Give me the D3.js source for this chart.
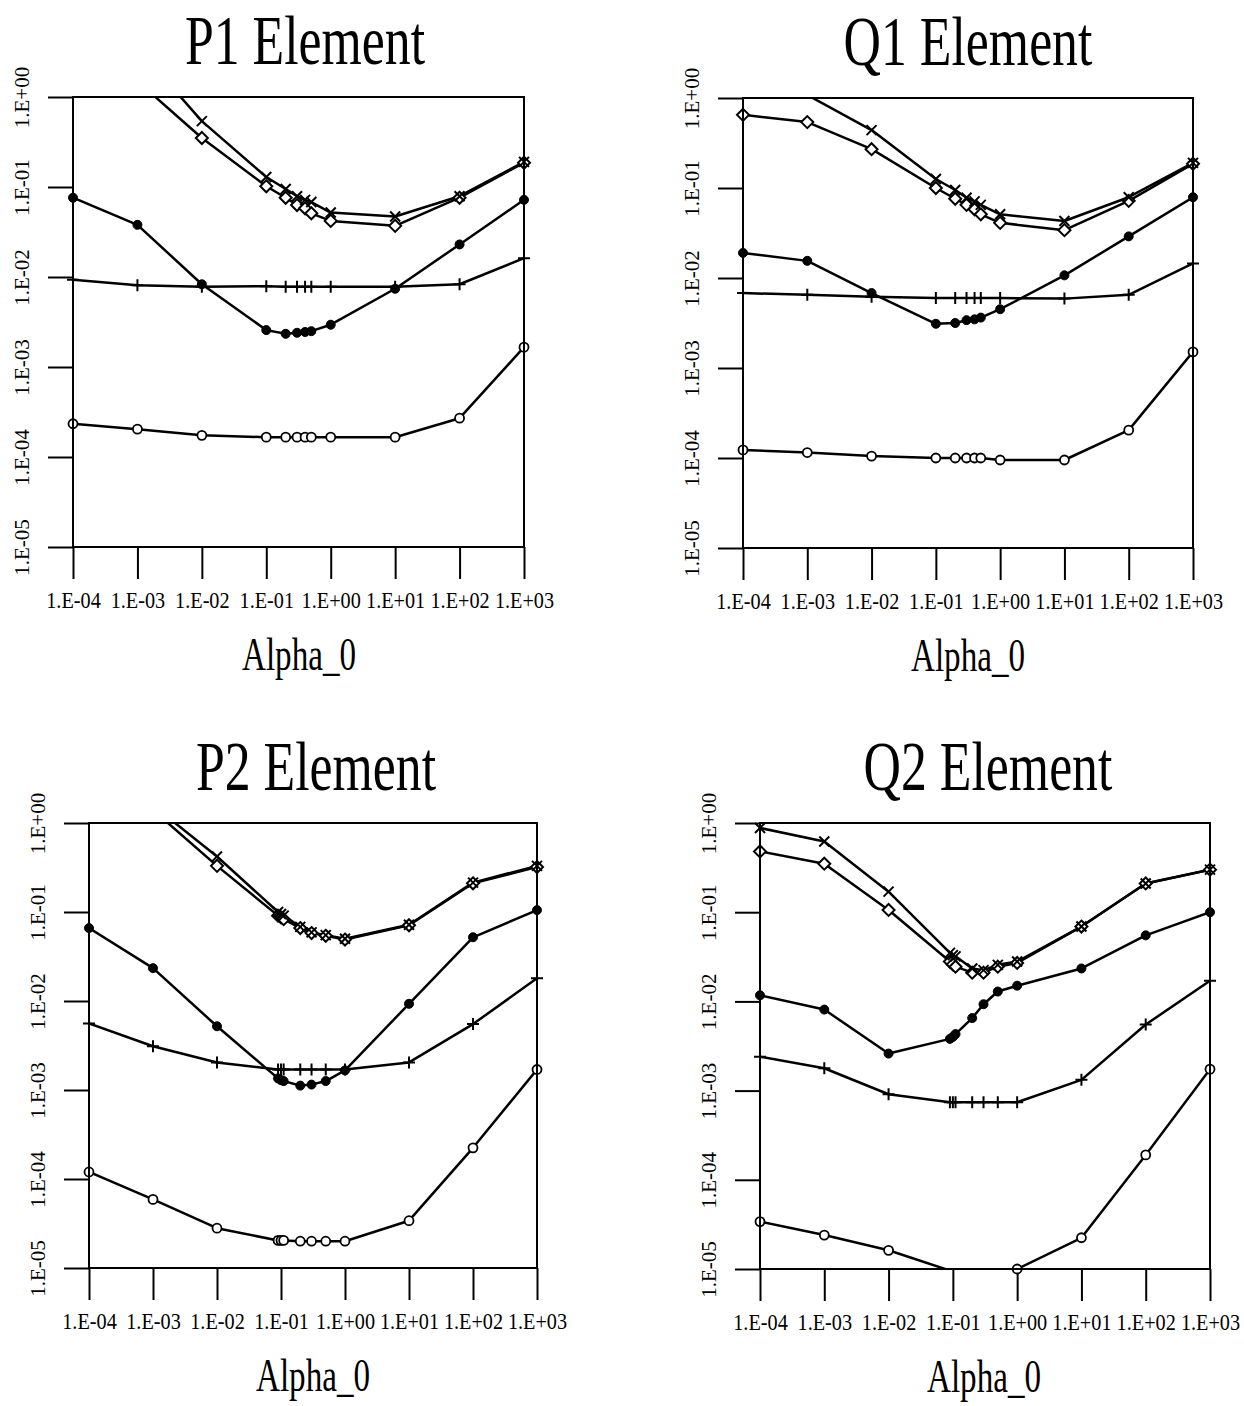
<!DOCTYPE html>
<html>
<head>
<meta charset="utf-8">
<script src="https://cdn.jsdelivr.net/npm/d3@7"></script>
<style>
  html, body { margin: 0; padding: 0; background: #fff; }
  svg { display: block; }
</style>
</head>
<body>
<script>
// ---- axis values and labels ----
const xTickValues = [1e-4, 1e-3, 1e-2, 1e-1, 1e0, 1e1, 1e2, 1e3];
const xTickLabels = ["1.E-04", "1.E-03", "1.E-02", "1.E-01", "1.E+00", "1.E+01", "1.E+02", "1.E+03"];
const yTickValues = [1e-5, 1e-4, 1e-3, 1e-2, 1e-1, 1e0];
const yTickLabels = ["1.E-05", "1.E-04", "1.E-03", "1.E-02", "1.E-01", "1.E+00"];
const panelTitles = ["P1 Element", "Q1 Element", "P2 Element", "Q2 Element"];
const xAxisTitle = "Alpha_0";

// ---- sampled Alpha_0 values ----
const alphaP1 = [1e-4, 1e-3, 1e-2, 0.1, 0.2, 0.3, 0.4, 0.5, 1, 10, 100, 1000];
const alphaQ1 = [1e-4, 1e-3, 1e-2, 0.1, 0.2, 0.3, 0.4, 0.5, 1, 10, 100, 1000];
const alphaP2 = [1e-4, 1e-3, 1e-2, 0.09, 0.1, 0.11, 0.2, 0.3, 0.5, 1, 10, 100, 1000];
const alphaQ2 = [1e-4, 1e-3, 1e-2, 0.09, 0.1, 0.11, 0.2, 0.3, 0.5, 1, 10, 100, 1000];

// ---- P1 element ----
const p1Cross   = [12, 3.5, 0.54, 0.129, 0.095, 0.079, 0.072, 0.068, 0.052, 0.047, 0.079, 0.19];
const p1Diamond = [5, 1.5, 0.35, 0.102, 0.076, 0.063, 0.058, 0.051, 0.042, 0.037, 0.076, 0.186];
const p1Dot     = [0.076, 0.038, 0.0083, 0.00257, 0.00234, 0.0024, 0.00245, 0.0025, 0.00295, 0.0074, 0.023, 0.072];
const p1Plus    = [0.0093, 0.0081, 0.0078, 0.0079, 0.0078, 0.0078, 0.0078, 0.0078, 0.0078, 0.0078, 0.0083, 0.0162];
const p1Ring    = [2.34e-4, 2.04e-4, 1.74e-4, 1.66e-4, 1.66e-4, 1.66e-4, 1.66e-4, 1.66e-4, 1.66e-4, 1.66e-4, 2.7e-4, 1.66e-3];

// ---- Q1 element ----
const q1Cross   = [1.26, 1.08, 0.44, 0.126, 0.095, 0.078, 0.071, 0.065, 0.051, 0.043, 0.079, 0.19];
const q1Diamond = [0.65, 0.54, 0.27, 0.1, 0.076, 0.065, 0.058, 0.051, 0.041, 0.034, 0.072, 0.186];
const q1Dot     = [0.019, 0.0155, 0.0068, 0.0031, 0.00316, 0.0034, 0.00347, 0.00363, 0.0045, 0.0107, 0.029, 0.079];
const q1Plus    = [0.0068, 0.0065, 0.0062, 0.006, 0.006, 0.006, 0.006, 0.006, 0.006, 0.0059, 0.0065, 0.0145];
const q1Ring    = [1.23e-4, 1.15e-4, 1.05e-4, 1.0e-4, 1.0e-4, 1.0e-4, 1.0e-4, 1.0e-4, 9.5e-5, 9.5e-5, 2.04e-4, 1.51e-3];

// ---- P2 element ----
const p2Cross   = [10, 1.58, 0.42, 0.1, 0.095, 0.091, 0.068, 0.059, 0.055, 0.05, 0.072, 0.214, 0.33];
const p2Diamond = [6, 1.4, 0.33, 0.091, 0.087, 0.083, 0.066, 0.058, 0.054, 0.049, 0.071, 0.21, 0.32];
const p2Dot     = [0.066, 0.0234, 0.0052, 0.00135, 0.00129, 0.00126, 0.00112, 0.00115, 0.00126, 0.00166, 0.0093, 0.052, 0.105];
const p2Plus    = [0.0056, 0.0031, 0.00204, 0.0017, 0.0017, 0.0017, 0.0017, 0.0017, 0.0017, 0.0017, 0.00204, 0.0055, 0.018];
const p2Ring    = [1.2e-4, 5.9e-5, 2.8e-5, 2.04e-5, 2.04e-5, 2.04e-5, 2.0e-5, 2.0e-5, 2.0e-5, 2.0e-5, 3.4e-5, 2.24e-4, 1.7e-3];

// ---- Q2 element ----
const q2Cross   = [0.88, 0.62, 0.17, 0.035, 0.033, 0.032, 0.0234, 0.0224, 0.0257, 0.028, 0.069, 0.21, 0.30];
const q2Diamond = [0.48, 0.35, 0.106, 0.028, 0.026, 0.0245, 0.021, 0.021, 0.0245, 0.027, 0.069, 0.21, 0.30];
const q2Dot     = [0.0117, 0.0081, 0.0026, 0.0038, 0.004, 0.0043, 0.0065, 0.0093, 0.0129, 0.015, 0.0234, 0.055, 0.1];
const q2Plus    = [0.0024, 0.00178, 9.1e-4, 7.4e-4, 7.4e-4, 7.4e-4, 7.4e-4, 7.4e-4, 7.4e-4, 7.4e-4, 0.00132, 0.0055, 0.017];
const q2Ring    = [3.4e-5, 2.4e-5, 1.62e-5, 9.6e-6, 9.4e-6, 9.2e-6, 9.0e-6, 9.0e-6, 9.2e-6, 1.0e-5, 2.24e-5, 1.9e-4, 1.74e-3];

// ---- panel assembly (data only; placement lives in `frames`) ----
const panels = [
  { title: panelTitles[0], alpha: alphaP1, series: { ring: p1Ring, plus: p1Plus, dot: p1Dot, diamond: p1Diamond, cross: p1Cross } },
  { title: panelTitles[1], alpha: alphaQ1, series: { ring: q1Ring, plus: q1Plus, dot: q1Dot, diamond: q1Diamond, cross: q1Cross } },
  { title: panelTitles[2], alpha: alphaP2, series: { ring: p2Ring, plus: p2Plus, dot: p2Dot, diamond: p2Diamond, cross: p2Cross } },
  { title: panelTitles[3], alpha: alphaQ2, series: { ring: q2Ring, plus: q2Plus, dot: q2Dot, diamond: q2Diamond, cross: q2Cross } }
];

const frames = [
  { left: 73,  top: 97,  width: 451, height: 450, titleX: 305, axisTitleX: 299 },
  { left: 743, top: 98,  width: 450, height: 450, titleX: 968, axisTitleX: 968 },
  { left: 89,  top: 823, width: 448, height: 445, titleX: 316, axisTitleX: 313 },
  { left: 760, top: 823, width: 450, height: 446, titleX: 988, axisTitleX: 984 }
];

const serif = "'Liberation Serif', 'Times New Roman', Times, serif";
const seriesOrder = ["ring", "plus", "dot", "diamond", "cross"];

const svg = d3.select("body").append("svg")
  .attr("width", 1244).attr("height", 1406)
  .style("background", "#fff");

function markerPath(kind) {
  switch (kind) {
    case "cross":   return "M-5,-5L5,5M-5,5L5,-5";
    case "plus":    return "M-6,0H6M0,-6V6";
    case "diamond": return "M0,-6L6,0L0,6L-6,0Z";
  }
  return null;
}

panels.forEach((panel, i) => {
  const f = frames[i];
  const x = d3.scaleLog().domain([1e-4, 1e3]).range([f.left, f.left + f.width]);
  const y = d3.scaleLog().domain([1e-5, 1]).range([f.top + f.height, f.top]);
  const g = svg.append("g").attr("class", "panel");

  const clipId = "plot-clip-" + i;
  svg.append("defs").append("clipPath").attr("id", clipId)
    .append("rect")
    .attr("x", f.left).attr("y", f.top)
    .attr("width", f.width).attr("height", f.height);

  // title
  g.append("text")
    .attr("transform", `translate(${f.titleX},${f.top - 33}) scale(0.74,1)`)
    .attr("text-anchor", "middle")
    .attr("font-family", serif)
    .attr("font-size", 70)
    .attr("fill", "#000")
    .text(panel.title);

  // x axis
  const xAxis = d3.axisBottom(x)
    .tickValues(xTickValues)
    .tickFormat((d, k) => xTickLabels[k])
    .tickSize(32)
    .tickSizeOuter(0);
  const gx = g.append("g")
    .attr("transform", `translate(0,${f.top + f.height})`)
    .call(xAxis);
  gx.select(".domain").remove();
  gx.selectAll(".tick line").attr("stroke", "#000").attr("stroke-width", 2);
  gx.selectAll(".tick text")
    .attr("y", null).attr("dy", null)
    .attr("transform", "translate(0,61) scale(0.88,1)")
    .attr("text-anchor", "middle")
    .attr("font-family", serif)
    .attr("font-size", 23)
    .attr("fill", "#000");

  // y axis
  const yAxis = d3.axisLeft(y)
    .tickValues(yTickValues)
    .tickFormat((d, k) => yTickLabels[k])
    .tickSize(25)
    .tickSizeOuter(0);
  const gy = g.append("g")
    .attr("transform", `translate(${f.left},0)`)
    .call(yAxis);
  gy.select(".domain").remove();
  gy.selectAll(".tick line").attr("stroke", "#000").attr("stroke-width", 2);
  gy.selectAll(".tick text")
    .attr("x", null).attr("dy", null)
    .attr("transform", "translate(-44,0) rotate(-90)")
    .attr("text-anchor", "middle")
    .attr("font-family", serif)
    .attr("font-size", 21)
    .attr("fill", "#000");

  // x axis title
  g.append("text")
    .attr("transform", `translate(${f.axisTitleX},${f.top + f.height + 123}) scale(0.72,1)`)
    .attr("text-anchor", "middle")
    .attr("font-family", serif)
    .attr("font-size", 46)
    .attr("fill", "#000")
    .text(xAxisTitle);

  // series lines
  const line = d3.line().x(d => x(d[0])).y(d => y(d[1]));
  const lines = g.append("g").attr("clip-path", `url(#${clipId})`);
  seriesOrder.forEach(key => {
    const pts = panel.alpha.map((a, k) => [a, panel.series[key][k]]);
    lines.append("path")
      .datum(pts)
      .attr("d", line)
      .attr("fill", "none")
      .attr("stroke", "#000")
      .attr("stroke-width", 2.5)
      .attr("stroke-linejoin", "round");
  });

  // markers (only those that fall inside the value range)
  const inRange = v => v >= 1e-5 * 0.995 && v <= 1 * 1.005;
  seriesOrder.forEach(key => {
    const pts = panel.alpha.map((a, k) => [a, panel.series[key][k]]).filter(d => inRange(d[1]));
    const mg = g.append("g");
    if (key === "dot" || key === "ring") {
      mg.selectAll("circle").data(pts).join("circle")
        .attr("cx", d => x(d[0])).attr("cy", d => y(d[1]))
        .attr("r", 4.5)
        .attr("fill", key === "dot" ? "#000" : "#fff")
        .attr("stroke", "#000")
        .attr("stroke-width", key === "dot" ? 1 : 1.8);
    } else {
      mg.selectAll("path").data(pts).join("path")
        .attr("transform", d => `translate(${x(d[0])},${y(d[1])})`)
        .attr("d", markerPath(key))
        .attr("fill", key === "diamond" ? "#fff" : "none")
        .attr("stroke", "#000")
        .attr("stroke-width", 2);
    }
  });

  // plot frame
  g.append("rect")
    .attr("x", f.left).attr("y", f.top)
    .attr("width", f.width).attr("height", f.height)
    .attr("fill", "none")
    .attr("stroke", "#000")
    .attr("stroke-width", 2);
});
</script>
</body>
</html>
